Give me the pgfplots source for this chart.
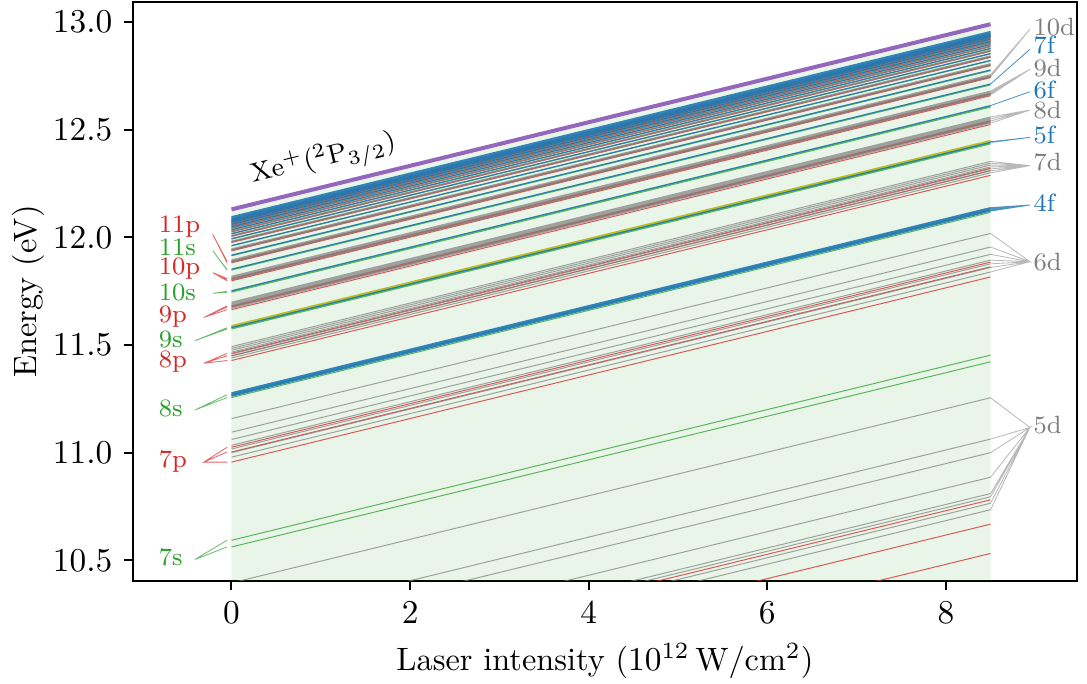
\documentclass[border=0pt]{standalone}
\usepackage{pgfplots}
\pgfplotsset{compat=1.18}
\usepackage{pgfplotstable}
\definecolor{tabblue}{HTML}{1F77B4}
\definecolor{tabred}{HTML}{D62728}
\definecolor{tabgreen}{HTML}{2CA02C}
\definecolor{tabgray}{HTML}{7F7F7F}
\definecolor{tabpurple}{HTML}{9467BD}
\definecolor{tabolive}{HTML}{BCBD22}
\newcommand\tickfont{\fontsize{9.7}{11.6}\selectfont}
\newcommand\labfont{\fontsize{7.5}{9}\selectfont}

% s states (green)
\pgfplotstableread{
x y
0 10.562
8.5 11.422
nan nan
0 10.593
8.5 11.453
nan nan
0 11.256
8.5 12.116
nan nan
0 11.269
8.5 12.129
nan nan
0 11.574
8.5 12.434
nan nan
0 11.580
8.5 12.440
nan nan
0 11.745
8.5 12.605
nan nan
0 11.749
8.5 12.609
nan nan
0 11.848
8.5 12.708
nan nan
0 11.850
8.5 12.710
nan nan
0 11.914
8.5 12.774
nan nan
0 11.916
8.5 12.776
nan nan
0 11.960
8.5 12.820
nan nan
0 11.992
8.5 12.852
nan nan
0 12.016
8.5 12.876
nan nan
0 12.0345
8.5 12.8945
nan nan
0 12.0486
8.5 12.9086
nan nan
0 12.0598
8.5 12.9198
nan nan
0 12.0689
8.5 12.9289
nan nan
0 12.0763
8.5 12.9363
}\sdata

% p states (red)
\pgfplotstableread{
x y
0 9.672
8.5 10.532
nan nan
0 9.808
8.5 10.668
nan nan
0 9.921
8.5 10.781
nan nan
0 10.956
8.5 11.816
nan nan
0 11.003
8.5 11.863
nan nan
0 11.025
8.5 11.885
nan nan
0 11.428
8.5 12.288
nan nan
0 11.450
8.5 12.310
nan nan
0 11.461
8.5 12.321
nan nan
0 11.664
8.5 12.524
nan nan
0 11.676
8.5 12.536
nan nan
0 11.6815
8.5 12.5415
nan nan
0 11.798
8.5 12.658
nan nan
0 11.805
8.5 12.665
nan nan
0 11.8087
8.5 12.6687
nan nan
0 11.8816
8.5 12.7416
nan nan
0 11.8862
8.5 12.7462
nan nan
0 11.8885
8.5 12.7485
nan nan
0 11.9372
8.5 12.7972
nan nan
0 11.9403
8.5 12.8003
nan nan
0 11.9419
8.5 12.8019
nan nan
0 11.9760
8.5 12.8360
nan nan
0 11.9793
8.5 12.8393
nan nan
0 12.0041
8.5 12.8641
nan nan
0 12.0066
8.5 12.8666
nan nan
0 12.0252
8.5 12.8852
nan nan
0 12.0271
8.5 12.8871
nan nan
0 12.0414
8.5 12.9014
nan nan
0 12.0429
8.5 12.9029
nan nan
0 12.0541
8.5 12.9141
nan nan
0 12.0553
8.5 12.9153
nan nan
0 12.0642
8.5 12.9242
nan nan
0 12.0725
8.5 12.9325
nan nan
0 12.0792
8.5 12.9392
}\pdata

% d states (gray)
\pgfplotstableread{
x y
0 10.395
8.5 11.255
nan nan
0 10.203
8.5 11.063
nan nan
0 10.140
8.5 11.000
nan nan
0 10.026
8.5 10.886
nan nan
0 9.950
8.5 10.810
nan nan
0 9.935
8.5 10.795
nan nan
0 9.905
8.5 10.765
nan nan
0 9.875
8.5 10.735
nan nan
0 11.158
8.5 12.018
nan nan
0 11.095
8.5 11.955
nan nan
0 11.061
8.5 11.921
nan nan
0 11.034
8.5 11.894
nan nan
0 11.017
8.5 11.877
nan nan
0 11.000
8.5 11.860
nan nan
0 10.979
8.5 11.839
nan nan
0 11.4924
8.5 12.3524
nan nan
0 11.4840
8.5 12.3440
nan nan
0 11.4755
8.5 12.3355
nan nan
0 11.4668
8.5 12.3268
nan nan
0 11.4579
8.5 12.3179
nan nan
0 11.4489
8.5 12.3089
nan nan
0 11.4396
8.5 12.2996
nan nan
0 11.6990
8.5 12.5590
nan nan
0 11.6944
8.5 12.5544
nan nan
0 11.6897
8.5 12.5497
nan nan
0 11.6849
8.5 12.5449
nan nan
0 11.6800
8.5 12.5400
nan nan
0 11.6751
8.5 12.5351
nan nan
0 11.6700
8.5 12.5300
nan nan
0 11.8193
8.5 12.6793
nan nan
0 11.8165
8.5 12.6765
nan nan
0 11.8136
8.5 12.6736
nan nan
0 11.8107
8.5 12.6707
nan nan
0 11.8078
8.5 12.6678
nan nan
0 11.8048
8.5 12.6648
nan nan
0 11.8017
8.5 12.6617
nan nan
0 11.8955
8.5 12.7555
nan nan
0 11.8917
8.5 12.7517
nan nan
0 11.8879
8.5 12.7479
nan nan
0 11.8840
8.5 12.7440
nan nan
0 11.9467
8.5 12.8067
nan nan
0 11.9428
8.5 12.8028
nan nan
0 11.9388
8.5 12.7988
nan nan
0 11.9828
8.5 12.8428
nan nan
0 11.9800
8.5 12.8400
nan nan
0 11.9771
8.5 12.8371
nan nan
0 12.0092
8.5 12.8692
nan nan
0 12.0050
8.5 12.8650
nan nan
0 12.0290
8.5 12.8890
nan nan
0 12.0258
8.5 12.8858
nan nan
0 12.0444
8.5 12.9044
nan nan
0 12.0419
8.5 12.9019
nan nan
0 12.0565
8.5 12.9165
nan nan
0 12.0545
8.5 12.9145
nan nan
0 12.0662
8.5 12.9262
nan nan
0 12.0740
8.5 12.9340
nan nan
0 12.0805
8.5 12.9405
nan nan
0 12.0860
8.5 12.9460
}\ddata

% f states (blue)
\pgfplotstableread{
x y
0 11.262
8.5 12.122
nan nan
0 11.266
8.5 12.126
nan nan
0 11.270
8.5 12.130
nan nan
0 11.274
8.5 12.134
nan nan
0 11.278
8.5 12.138
nan nan
0 11.581
8.5 12.441
nan nan
0 11.584
8.5 12.444
nan nan
0 11.7519
8.5 12.6119
nan nan
0 11.8521
8.5 12.7121
nan nan
0 11.9172
8.5 12.7772
nan nan
0 11.9618
8.5 12.8218
nan nan
0 11.9937
8.5 12.8537
nan nan
0 12.0174
8.5 12.8774
nan nan
0 12.0353
8.5 12.8953
nan nan
0 12.0493
8.5 12.9093
nan nan
0 12.0604
8.5 12.9204
nan nan
0 12.0693
8.5 12.9293
nan nan
0 12.0767
8.5 12.9367
nan nan
0 12.0827
8.5 12.9427
nan nan
0 12.0878
8.5 12.9478
nan nan
0 12.0921
8.5 12.9521
nan nan
0 12.0958
8.5 12.9558
}\fdata

\begin{document}
\begin{tikzpicture}
\path[use as bounding box] (-39.9pt,-30.9pt) rectangle (286.2pt,174.3pt);
\begin{axis}[
  at={(0,0)}, anchor=south west,
  scale only axis, width=283.2pt, height=173.7pt,
  xmin=-1.103, xmax=9.468, ymin=10.404, ymax=13.093,
  xtick={0,2,4,6,8}, ytick={10.5,11.0,11.5,12.0,12.5,13.0},
  xtick pos=bottom, ytick pos=left,
  tick align=outside, major tick length=2.7pt,
  every tick/.style={black, line width=0.6pt},
  axis line style={line width=0.7pt},
  yticklabel style={/pgf/number format/.cd, fixed, fixed zerofill, precision=1},
  tick label style={font=\tickfont},
  label style={font=\tickfont},
  xlabel={Laser intensity ($10^{12}\,$W/cm$^2$)},
  ylabel={Energy (eV)},
  xlabel style={at={(axis description cs:0.5,-0.138)}, anchor=center},
  ylabel style={at={(axis description cs:-0.111,0.5)}, anchor=center},
  unbounded coords=jump,
]
% shaded region
\addplot[draw=none, fill=tabgreen, fill opacity=0.11] coordinates {(0,10.3) (0,12.1298) (8.5,12.9898) (8.5,10.3)} -- cycle;

\addplot[tabgreen, line width=0.3pt, opacity=0.75] table {\sdata};
\addplot[tabred, line width=0.3pt, opacity=0.75] table {\pdata};
\addplot[tabgray, line width=0.3pt, opacity=0.7] table {\ddata};
\addplot[tabblue, line width=0.35pt, opacity=0.9] table {\fdata};
\addplot[tabolive, line width=0.5pt] coordinates {(0,11.5886) (8.5,12.4486)};
\addplot[tabpurple, line width=1.2pt] coordinates {(0,12.1298) (8.5,12.9898)};

% left fans
\addplot[tabred, line width=0.25pt, opacity=0.7] coordinates {(-0.21,12.014) (-0.05,11.8816) (-0.21,12.014) (-0.05,11.8862) (-0.21,12.014) (-0.05,11.8885)};
\addplot[tabgreen, line width=0.25pt, opacity=0.7] coordinates {(-0.21,11.938) (-0.05,11.848) (-0.21,11.938) (-0.05,11.850)};
\addplot[tabred, line width=0.25pt, opacity=0.7] coordinates {(-0.21,11.836) (-0.05,11.798) (-0.21,11.836) (-0.05,11.805) (-0.21,11.836) (-0.05,11.8087)};
\addplot[tabgreen, line width=0.25pt, opacity=0.7] coordinates {(-0.21,11.740) (-0.05,11.745) (-0.21,11.740) (-0.05,11.749)};
\addplot[tabred, line width=0.25pt, opacity=0.7] coordinates {(-0.31,11.628) (-0.05,11.664) (-0.31,11.628) (-0.05,11.676) (-0.31,11.628) (-0.05,11.6815)};
\addplot[tabgreen, line width=0.25pt, opacity=0.7] coordinates {(-0.41,11.520) (-0.05,11.574) (-0.41,11.520) (-0.05,11.580)};
\addplot[tabred, line width=0.25pt, opacity=0.7] coordinates {(-0.31,11.415) (-0.05,11.428) (-0.31,11.415) (-0.05,11.450) (-0.31,11.415) (-0.05,11.461)};
\addplot[tabgreen, line width=0.25pt, opacity=0.7] coordinates {(-0.41,11.198) (-0.05,11.256) (-0.41,11.198) (-0.05,11.269)};
\addplot[tabred, line width=0.25pt, opacity=0.7] coordinates {(-0.31,10.956) (-0.05,10.956) (-0.31,10.956) (-0.05,11.003) (-0.31,10.956) (-0.05,11.025)};
\addplot[tabgreen, line width=0.25pt, opacity=0.7] coordinates {(-0.41,10.504) (-0.05,10.562) (-0.41,10.504) (-0.05,10.593)};

% right fans
\addplot[tabgray, line width=0.25pt, opacity=0.55] coordinates {(8.94,12.966) (8.5,12.7555) (8.94,12.966) (8.5,12.7517) (8.94,12.966) (8.5,12.7479) (8.94,12.966) (8.5,12.7440)};
\addplot[tabblue, line width=0.25pt, opacity=0.8] coordinates {(8.94,12.873) (8.5,12.7121)};
\addplot[tabgray, line width=0.25pt, opacity=0.55] coordinates {(8.94,12.780) (8.5,12.6793) (8.94,12.780) (8.5,12.6736) (8.94,12.780) (8.5,12.6678) (8.94,12.780) (8.5,12.6617)};
\addplot[tabblue, line width=0.25pt, opacity=0.8] coordinates {(8.94,12.676) (8.5,12.6119)};
\addplot[tabgray, line width=0.25pt, opacity=0.55] coordinates {(8.94,12.591) (8.5,12.5590) (8.94,12.591) (8.5,12.5497) (8.94,12.591) (8.5,12.5400) (8.94,12.591) (8.5,12.5300)};
\addplot[tabblue, line width=0.25pt, opacity=0.8] coordinates {(8.94,12.464) (8.5,12.441) (8.94,12.464) (8.5,12.444)};
\addplot[tabgray, line width=0.25pt, opacity=0.55] coordinates {(8.94,12.333) (8.5,12.3524) (8.94,12.333) (8.5,12.3440) (8.94,12.333) (8.5,12.3355) (8.94,12.333) (8.5,12.3268) (8.94,12.333) (8.5,12.3179) (8.94,12.333) (8.5,12.3089) (8.94,12.333) (8.5,12.2996)};
\addplot[tabblue, line width=0.25pt, opacity=0.8] coordinates {(8.94,12.150) (8.5,12.122) (8.94,12.150) (8.5,12.126) (8.94,12.150) (8.5,12.130) (8.94,12.150) (8.5,12.134) (8.94,12.150) (8.5,12.138)};
\addplot[tabgray, line width=0.25pt, opacity=0.55] coordinates {(8.94,11.887) (8.5,12.018) (8.94,11.887) (8.5,11.955) (8.94,11.887) (8.5,11.921) (8.94,11.887) (8.5,11.894) (8.94,11.887) (8.5,11.877) (8.94,11.887) (8.5,11.860) (8.94,11.887) (8.5,11.839)};
\addplot[tabgray, line width=0.25pt, opacity=0.55] coordinates {(8.94,11.117) (8.5,11.255) (8.94,11.117) (8.5,11.063) (8.94,11.117) (8.5,11.000) (8.94,11.117) (8.5,10.886) (8.94,11.117) (8.5,10.810) (8.94,11.117) (8.5,10.795) (8.94,11.117) (8.5,10.765) (8.94,11.117) (8.5,10.735)};

% left labels
\begin{scope}[every node/.style={anchor=west, inner sep=0pt, font=\labfont}]
\node[text=tabred] at (axis cs:-0.82,12.048) {11p};
\node[text=tabgreen] at (axis cs:-0.82,11.955) {11s};
\node[text=tabred] at (axis cs:-0.82,11.857) {10p};
\node[text=tabgreen] at (axis cs:-0.82,11.746) {10s};
\node[text=tabred] at (axis cs:-0.82,11.634) {9p};
\node[text=tabgreen] at (axis cs:-0.82,11.528) {9s};
\node[text=tabred] at (axis cs:-0.82,11.425) {8p};
\node[text=tabgreen] at (axis cs:-0.82,11.207) {8s};
\node[text=tabred] at (axis cs:-0.82,10.961) {7p};
\node[text=tabgreen] at (axis cs:-0.82,10.515) {7s};
% right labels
\node[text=tabgray] at (axis cs:8.975,12.977) {10d};
\node[text=tabblue] at (axis cs:8.975,12.893) {7f};
\node[text=tabgray] at (axis cs:8.975,12.786) {9d};
\node[text=tabblue] at (axis cs:8.975,12.684) {6f};
\node[text=tabgray] at (axis cs:8.975,12.591) {8d};
\node[text=tabblue] at (axis cs:8.975,12.475) {5f};
\node[text=tabgray] at (axis cs:8.975,12.350) {7d};
\node[text=tabblue] at (axis cs:8.975,12.159) {4f};
\node[text=tabgray] at (axis cs:8.975,11.885) {6d};
\node[text=tabgray] at (axis cs:8.975,11.128) {5d};
\end{scope}
\node[rotate=13.7, font=\fontsize{8.5}{10}\selectfont, inner sep=0pt] at (axis cs:1.03,12.362) {$\mathrm{Xe}^{+}(^{2}\mathrm{P}_{3/2})$};
\end{axis}
\end{tikzpicture}
\end{document}
